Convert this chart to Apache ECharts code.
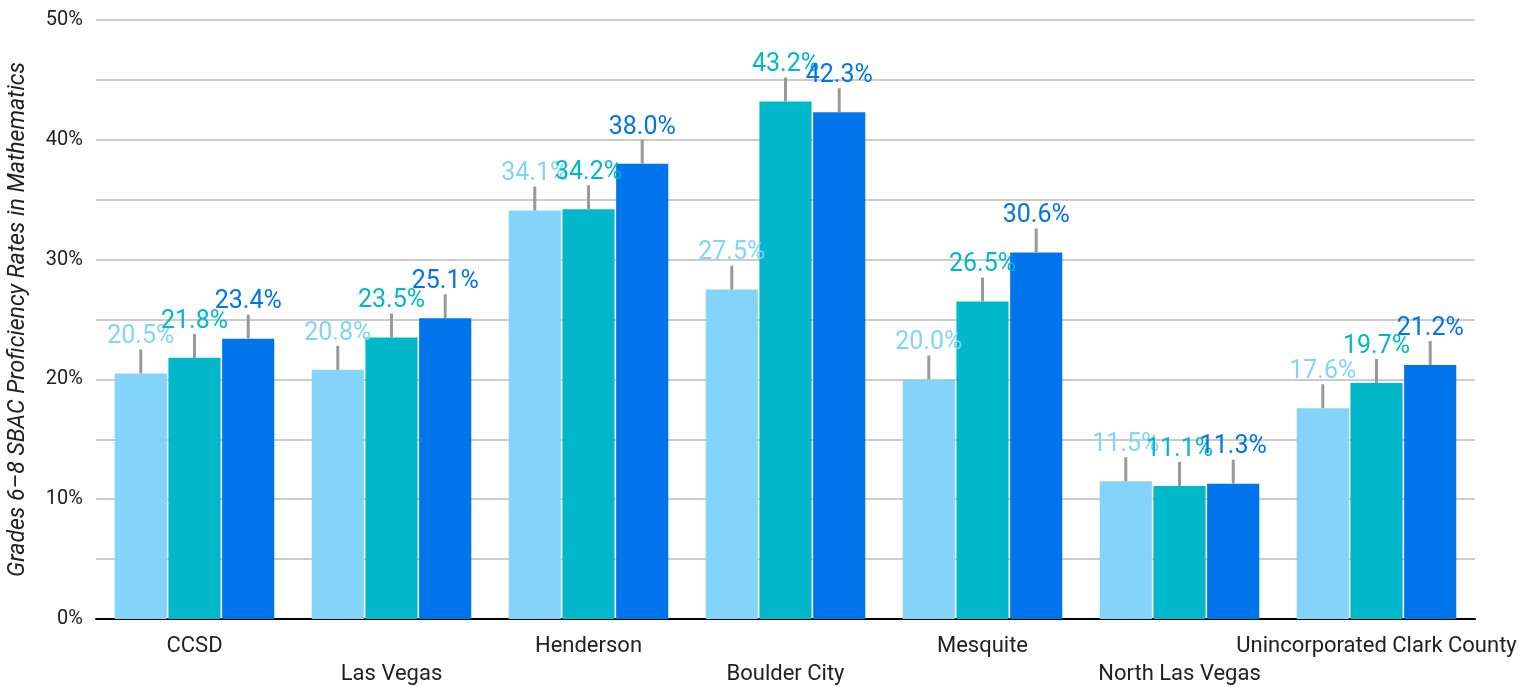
<!DOCTYPE html>
<html lang="en">
<head>
    <meta charset="UTF-8">
    <title>SBAC Math Proficiency</title>
    <style>
        html, body {margin: 0; padding: 0; background: #fff;}
        #main {width: 1538px; height: 687px;}
    </style>
</head>
<body>
<div id="main"></div>
<script src="https://cdn.jsdelivr.net/npm/echarts@6/dist/echarts.min.js"></script>
<script>
    var categories = ['CCSD', 'Las Vegas', 'Henderson', 'Boulder City', 'Mesquite', 'North Las Vegas', 'Unincorporated Clark County'];
    var series1 = [20.5, 20.8, 34.1, 27.5, 20.0, 11.5, 17.6];
    var series2 = [21.8, 23.5, 34.2, 43.2, 26.5, 11.1, 19.7];
    var series3 = [23.4, 25.1, 38.0, 42.3, 30.6, 11.3, 21.2];
    var errorMargin = [2, 2, 2, 2, 2, 2, 2];
    var yTicks = [0, 10, 20, 30, 40, 50];

    var colors = ['#84d4f9', '#00b8ca', '#0074eb'];
    var allSeries = [series1, series2, series3];
    var catGap = 0.19, barGap = 0.03;

    var myChart = echarts.init(document.getElementById('main'));

    function errorRenderer(idx) {
        return function (params, api) {
            var ci = api.value(0);
            var v = api.value(1);
            var e = api.value(2);
            var band = api.size([1, 0])[0];
            var group = band * (1 - catGap);
            var w = group / (3 + 2 * barGap);
            var off = -group / 2 + w / 2 + idx * w * (1 + barGap);
            var p0 = api.coord([ci, v]);
            var p1 = api.coord([ci, v + e]);
            return {
                type: 'line',
                shape: {x1: p0[0] + off, y1: p0[1], x2: p1[0] + off, y2: p1[1]},
                style: {stroke: '#999999', lineWidth: 3}
            };
        };
    }

    var series = [];
    for (var i = 0; i < allSeries.length; i++) {
        series.push({
            type: 'bar',
            name: 'Series ' + (i + 1),
            data: allSeries[i],
            barGap: (barGap * 100) + '%',
            barCategoryGap: (catGap * 100) + '%',
            itemStyle: {color: colors[i]},
            z: 2,
            label: {
                show: true,
                position: 'top',
                distance: 24,
                color: colors[i],
                fontSize: 25,
                fontFamily: 'Roboto',
                formatter: function (p) { return p.value.toFixed(1) + '%'; }
            }
        });
    }
    for (var j = 0; j < allSeries.length; j++) {
        var d = [];
        for (var k = 0; k < categories.length; k++) {
            d.push([k, allSeries[j][k], errorMargin[k]]);
        }
        series.push({
            type: 'custom',
            renderItem: errorRenderer(j),
            data: d,
            z: 3,
            silent: true,
            encode: {x: 0, y: 1}
        });
    }

    var option = {
        animation: false,
        textStyle: {fontFamily: 'Roboto'},
        grid: {left: 96, right: 63, top: 20, bottom: 68, containLabel: false, outerBoundsMode: 'none'},
        xAxis: {
            type: 'category',
            data: categories,
            axisTick: {show: false},
            axisLine: {lineStyle: {color: '#000', width: 2}},
            axisLabel: {
                interval: 0,
                color: '#222',
                fontSize: 22,
                lineHeight: 28,
                margin: 13,
                formatter: function (v, idx) { return idx % 2 ? '\n' + v : v; }
            }
        },
        yAxis: {
            type: 'value',
            min: 0,
            max: 50,
            interval: 5,
            name: 'Grades 6–8 SBAC Proficiency Rates in Mathematics',
            nameLocation: 'middle',
            nameGap: 66,
            nameTextStyle: {fontStyle: 'italic', fontSize: 23, color: '#222', fontFamily: 'Roboto'},
            axisLine: {show: false},
            axisTick: {show: false},
            axisLabel: {
                color: '#222',
                fontSize: 20,
                margin: 13,
                formatter: function (v) { return yTicks.indexOf(v) >= 0 ? v + '%' : ''; }
            },
            splitLine: {lineStyle: {color: '#cccccc', width: 2}}
        },
        series: series
    };
    myChart.setOption(option);
</script>
</body>
</html>
